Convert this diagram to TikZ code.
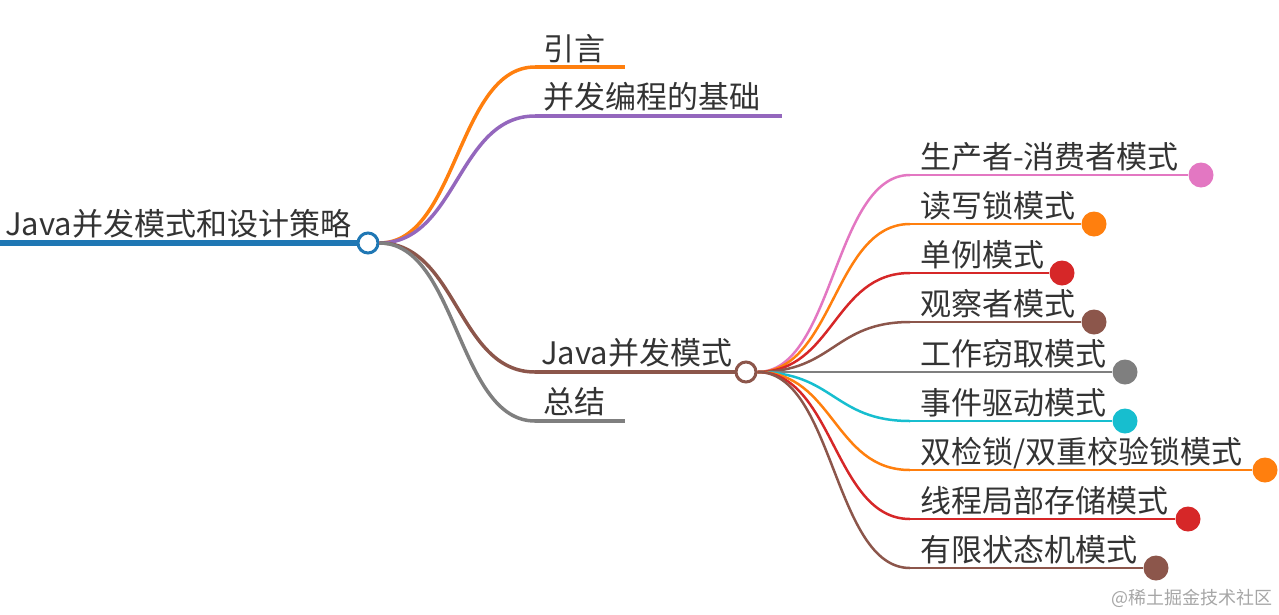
\documentclass[tikz,border=0pt]{standalone}
\usepackage{fontspec}
\setmainfont{Noto Sans CJK SC}
\usetikzlibrary{calc}
\definecolor{mmblue}{HTML}{1F77B4}
\definecolor{mmorange}{HTML}{FF7F0E}
\definecolor{mmpurple}{HTML}{9467BD}
\definecolor{mmbrown}{HTML}{8C564B}
\definecolor{mmgray}{HTML}{7F7F7F}
\definecolor{mmpink}{HTML}{E377C2}
\definecolor{mmred}{HTML}{D62728}
\definecolor{mmcyan}{HTML}{17BECF}
\definecolor{mmtext}{HTML}{333333}
\tikzset{topic/.style = {anchor=base west, inner sep=0pt, text=mmtext, font=\fontsize{31}{31}\selectfont},
         hub/.style = {circle, fill=white, line width=3pt, minimum size=20pt, inner sep=0pt},
         tip/.style = {circle, minimum size=25pt, inner sep=0pt},
         branch/.style = {line width=3.5pt},
         twig/.style = {line width=2.5pt}}
% horizontal link: control points at the middle x
\newcommand\mmlink[3]{\draw[#1] let \p1=(#2), \p2=(#3) in
  (\p1) .. controls ({(\x1+\x2)/2},\y1) and ({(\x1+\x2)/2},\y2) .. (\p2);}

\begin{document}
\begin{tikzpicture}[x=1pt,y=-1pt]
\useasboundingbox (0,0) rectangle (1279,614);
% root
\coordinate (rootL) at (0,243);
\node[topic] (root) at (5,235) {Java并发模式和设计策略};
\draw[mmblue, line width=6pt] (rootL) -- (368,243) coordinate (rootP);
\node[hub, draw=mmblue] (rootC) at (rootP) {};
% first level
\coordinate (introA) at (535,67);   \coordinate (introB) at (625,67);
\coordinate (basicA) at (535,116);  \coordinate (basicB) at (782,116);
\coordinate (javaA) at (535,372);
\coordinate (sumA) at (535,421);    \coordinate (sumB) at (625,421);
\mmlink{mmorange, branch}{rootC.east}{introA}
\mmlink{mmpurple, branch}{rootC.east}{basicA}
\mmlink{mmbrown, branch}{rootC.east}{javaA}
\mmlink{mmgray, branch}{rootC.east}{sumA}
\draw[mmorange, branch] (introA) -- (introB);
\draw[mmpurple, branch] (basicA) -- (basicB);
\draw[mmgray, branch] (sumA) -- (sumB);
\node[topic] (intro) at (543,60) {引言};
\node[topic] (basic) at (543,108) {并发编程的基础};
\node[topic] (java) at (541,364) {Java并发模式};
\node[topic] (sum) at (543,413) {总结};
\node[hub, draw=mmbrown] (javaC) at (746,372) {};
\draw[mmbrown, branch] (javaA) -- (javaC.west);
% second level
\foreach \i/\y/\xd/\col/\txt in {1/175/1201/mmpink/生产者-消费者模式,
    2/224/1094/mmorange/读写锁模式, 3/273/1062/mmred/单例模式,
    4/322/1094/mmbrown/观察者模式, 5/372/1125/mmgray/工作窃取模式,
    6/421/1125/mmcyan/事件驱动模式, 7/470/1265/mmorange/{双检锁/双重校验锁模式},
    8/519/1188/mmred/线程局部存储模式, 9/568/1156/mmbrown/有限状态机模式}{
  \coordinate (leafA\i) at (910,\y);
  \mmlink{\col, twig}{javaC.east}{leafA\i}
  \node[tip, fill=\col] (dot\i) at (\xd,\y) {};
  \draw[\col, twig] (leafA\i) -- (dot\i);
  \node[topic] (leaf\i) at (920,\y-7) {\txt};
}
\node[anchor=base east, inner sep=0pt, text=black!35, font=\fontsize{18}{18}\selectfont] (mark) at (1273,604) {@稀土掘金技术社区};
\end{tikzpicture}
\end{document}
